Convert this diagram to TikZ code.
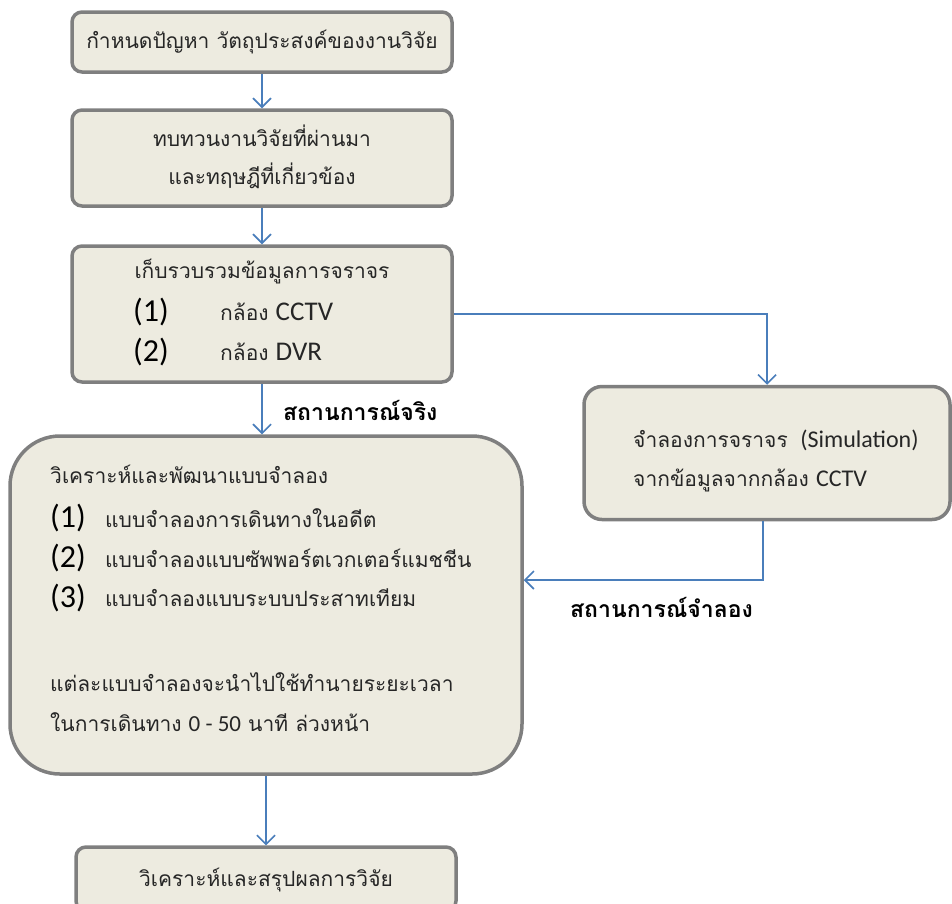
\documentclass[tikz,border=0pt]{standalone}
\usepackage{fontspec}
\setmainfont[Script=Thai]{Loma}
\newfontfamily\lat{Carlito}
\usetikzlibrary{arrows.meta,calc}
\definecolor{boxfill}{HTML}{EDEBE0}
\definecolor{boxline}{HTML}{7F7F7F}
\definecolor{arrblue}{HTML}{4A7EBB}
\definecolor{txtcol}{HTML}{262626}
\begin{document}
\begin{tikzpicture}[x=1pt,y=-1pt,
  box/.style={draw=boxline, line width=3.5pt, fill=boxfill, rounded corners=10pt, inner sep=0pt},
  bigbox/.style={box, rounded corners=50pt},
  arr/.style={draw=arrblue, line width=1.6pt, -{Straight Barb[length=9pt,width=18pt]}},
  txt/.style={font=\fontsize{21}{24}\selectfont, text=txtcol, inner sep=0pt},
  ltxt/.style={txt, anchor=west},
  num/.style={font=\lat\fontsize{32}{34}\selectfont, text=black, inner sep=0pt, anchor=west},
  lbl/.style={font=\bfseries\fontsize{23}{26}\selectfont, text=black, inner sep=0pt, anchor=west},
  latA/.style={},
]
\useasboundingbox (0,0) rectangle (952,903);

% boxes
\node[box, minimum width=380pt, minimum height=60pt] (b1) at (262,42) {};
\node[box, minimum width=380pt, minimum height=96pt] (b2) at (262,158) {};
\node[box, minimum width=380pt, minimum height=136pt] (b3) at (262,314) {};
\node[bigbox, minimum width=512pt, minimum height=338pt] (big) at (266,605) {};
\node[box, rounded corners=18pt, minimum width=366pt, minimum height=133pt] (rb) at (767,453) {};
\node[box, minimum width=380pt, minimum height=64pt] (b5) at (266,879) {};

% box 1
\node[txt] (t1) at (262,42) {กำหนดปัญหา วัตถุประสงค์ของงานวิจัย};
% box 2
\node[txt] (t2a) at (262,136) {ทบทวนงานวิจัยที่ผ่านมา};
\node[txt] (t2b) at (262,176) {และทฤษฎีที่เกี่ยวข้อง};
% box 3
\node[txt] (t3a) at (262,272) {เก็บรวบรวมข้อมูลการจราจร};
\node[num] (n31) at (133,312) {(1)};
\node[ltxt] (t31) at (220,312) {กล้อง {\lat\fontsize{27}{30}\selectfont CCTV}};
\node[num] (n32) at (133,352) {(2)};
\node[ltxt] (t32) at (220,352) {กล้อง {\lat\fontsize{27}{30}\selectfont DVR}};
% big box
\node[ltxt] (t4a) at (50,474) {วิเคราะห์และพัฒนาแบบจำลอง};
\node[num] (n41) at (50,518) {(1)};
\node[ltxt] (t41) at (105,518) {แบบจำลองการเดินทางในอดีต};
\node[num] (n42) at (50,558) {(2)};
\node[ltxt] (t42) at (105,558) {แบบจำลองแบบซัพพอร์ตเวกเตอร์แมชชีน};
\node[num] (n43) at (50,598) {(3)};
\node[ltxt] (t43) at (105,598) {แบบจำลองแบบระบบประสาทเทียม};
\node[ltxt] (t4b) at (50,682) {แต่ละแบบจำลองจะนำไปใช้ทำนายระยะเวลา};
\node[ltxt] (t4c) at (50,722) {ในการเดินทาง {\lat\fontsize{23}{26}\selectfont 0 - 50} นาที ล่วงหน้า};
% right box
\node[ltxt] (t5a) at (633,440) {จำลองการจราจร\hspace{0.6em}{\lat\fontsize{24}{26}\selectfont (Simulation)}};
\node[ltxt] (t5b) at (633,480) {จากข้อมูลจากกล้อง {\lat\fontsize{24}{26}\selectfont CCTV}};
% last box
\node[txt] (t6) at (266,880) {วิเคราะห์และสรุปผลการวิจัย};

% labels
\node[lbl] (l1) at (283,410) {สถานการณ์จริง};
\node[lbl] (l2) at (570,607) {สถานการณ์จำลอง};

% connectors
\draw[arr] (b1.south) -- (b2.north);
\draw[arr] (b2.south) -- (b3.north);
\draw[arr] (b3.south) -- (b3.south |- big.north);
\draw[arr] (b3.east) -| (rb.north);
\draw[arr] ([xshift=-4pt]rb.south) |- ([yshift=25pt]big.east);
\draw[arr] (big.south) -- (b5.north);
\end{tikzpicture}
\end{document}
